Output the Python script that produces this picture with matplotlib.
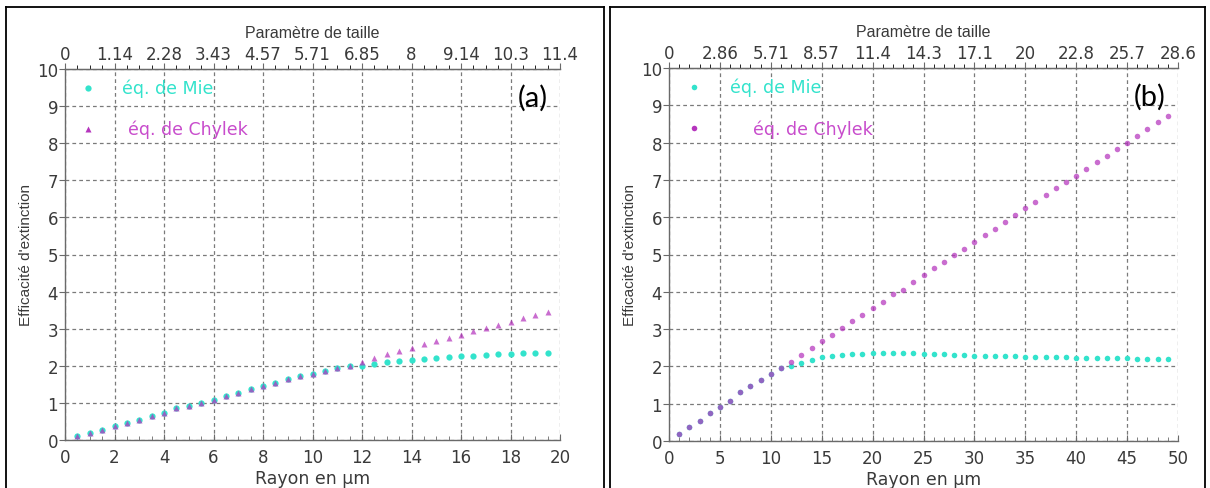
import matplotlib
matplotlib.use("Agg")
import matplotlib.pyplot as plt
from matplotlib.lines import Line2D
from matplotlib.ticker import MultipleLocator

plt.rcParams['font.family'] = ['DejaVu Sans']

# ---------------- data: panel (a) ----------------
rayon_a = [0.5, 1.0, 1.5, 2.0, 2.5, 3.0, 3.5, 4.0, 4.5, 5.0, 5.5, 6.0, 6.5, 7.0,
           7.5, 8.0, 8.5, 9.0, 9.5, 10.0, 10.5, 11.0, 11.5, 12.0, 12.5, 13.0,
           13.5, 14.0, 14.5, 15.0, 15.5, 16.0, 16.5, 17.0, 17.5, 18.0, 18.5,
           19.0, 19.5]
mie_a = [0.12, 0.18, 0.26, 0.38, 0.45, 0.55, 0.65, 0.73, 0.85, 0.92, 1.01, 1.09,
         1.19, 1.28, 1.37, 1.46, 1.54, 1.64, 1.72, 1.79, 1.87, 1.94, 1.99, 2.00,
         2.05, 2.09, 2.14, 2.16, 2.19, 2.20, 2.24, 2.26, 2.27, 2.29, 2.31, 2.32,
         2.34, 2.34, 2.34]
chylek_a = [0.12, 0.18, 0.26, 0.38, 0.45, 0.55, 0.65, 0.73, 0.85, 0.92, 1.01, 1.09,
            1.19, 1.28, 1.37, 1.46, 1.54, 1.64, 1.72, 1.79, 1.87, 1.94, 1.99, 2.10,
            2.21, 2.31, 2.40, 2.47, 2.59, 2.68, 2.75, 2.84, 2.93, 3.01, 3.10, 3.18,
            3.29, 3.37, 3.46]
xticks_a = [0, 2, 4, 6, 8, 10, 12, 14, 16, 18, 20]
toplabels_a = ["0", "1.14", "2.28", "3.43", "4.57", "5.71", "6.85", "8", "9.14",
               "10.3", "11.4"]

# ---------------- data: panel (b) ----------------
rayon_b = list(range(1, 50))
mie_b = [0.19, 0.37, 0.54, 0.74, 0.90, 1.08, 1.31, 1.48, 1.64, 1.80, 1.95, 2.00,
         2.09, 2.17, 2.24, 2.27, 2.30, 2.32, 2.34, 2.35, 2.35, 2.35, 2.35, 2.35,
         2.34, 2.33, 2.32, 2.31, 2.30, 2.29, 2.28, 2.28, 2.27, 2.27, 2.26, 2.25,
         2.25, 2.24, 2.24, 2.23, 2.23, 2.23, 2.22, 2.22, 2.22, 2.21, 2.20, 2.20,
         2.19]
chylek_b = [0.19, 0.37, 0.54, 0.74, 0.90, 1.08, 1.31, 1.48, 1.64, 1.80, 1.95, 2.13,
            2.31, 2.49, 2.69, 2.84, 3.02, 3.21, 3.39, 3.56, 3.73, 3.94, 4.06, 4.27,
            4.46, 4.63, 4.81, 4.98, 5.16, 5.34, 5.52, 5.69, 5.88, 6.06, 6.25, 6.42,
            6.60, 6.78, 6.95, 7.10, 7.30, 7.48, 7.65, 7.83, 8.00, 8.18, 8.36, 8.54,
            8.72]
xticks_b = [0, 5, 10, 15, 20, 25, 30, 35, 40, 45, 50]
toplabels_b = ["0", "2.86", "5.71", "8.57", "11.4", "14.3", "17.1", "20", "22.8",
               "25.7", "28.6"]

yticks = [0, 1, 2, 3, 4, 5, 6, 7, 8, 9, 10]

W, H = 1210, 489
fig = plt.figure(figsize=(W / 100, H / 100), dpi=100)

CYAN = '#33e3cc'
MAG = '#b535bd'
TICKC = '#3a3a3a'
AXC = '#6a6a6a'
LIB = ['Liberation Sans', 'DejaVu Sans']


def px(x0, y0, x1, y1):
    return [x0 / W, 1 - y1 / H, (x1 - x0) / W, (y1 - y0) / H]


def panel(rect, xs, mie, chy, xticks, toplabels, xmax, minor, chy_marker, label,
          leg_x, mie_tx, chy_tx, msize):
    ax = fig.add_axes(rect)
    ax.plot(xs, mie, 'o', color=CYAN, ms=msize, mec='none', zorder=3)
    ax.plot(xs, chy, chy_marker, color=MAG, ms=msize, mec='none', alpha=0.72,
            zorder=4)
    ax.set_xlim(0, xmax)
    ax.set_ylim(0, 10)
    ax.set_xticks(xticks)
    ax.set_yticks(yticks)
    ax.xaxis.set_minor_locator(MultipleLocator(minor))
    ax.grid(True, which='major', color='#7a7a7a', linestyle=(0, (3, 2.5)),
            linewidth=0.9)
    ax.spines['right'].set_visible(False)
    for s in ['left', 'bottom', 'top']:
        ax.spines[s].set_color(AXC)
        ax.spines[s].set_linewidth(1.0)
    ax.tick_params(axis='both', labelsize=12, colors=AXC, labelcolor=TICKC,
                   length=4, pad=1)
    ax.tick_params(axis='x', direction='in', pad=6)
    ax.tick_params(axis='x', which='minor', direction='in', length=3, colors=AXC)
    ax.tick_params(axis='y', direction='out', length=4)
    ax.set_xlabel("Rayon en µm", fontsize=12.5, color=TICKC, labelpad=2)
    ax.set_ylabel("Efficacité d'extinction", fontsize=11, color=TICKC,
                  labelpad=3, family=LIB)

    top = ax.secondary_xaxis('top')
    top.set_xticks(xticks, labels=toplabels)
    top.xaxis.set_minor_locator(MultipleLocator(minor))
    top.tick_params(axis='x', labelsize=12, colors=AXC, labelcolor=TICKC,
                    direction='out', length=4, pad=0)
    top.tick_params(axis='x', which='minor', direction='out', length=3)
    top.spines['top'].set_color(AXC)
    top.set_xlabel("Paramètre de taille", fontsize=11.5, color=TICKC,
                   labelpad=6, family=LIB)

    # legend entries
    ax.plot([leg_x], [0.949], 'o', color=CYAN, ms=msize, mec='none',
            transform=ax.transAxes, clip_on=False)
    ax.plot([leg_x], [0.838], chy_marker, color=MAG, ms=msize, mec='none',
            transform=ax.transAxes, clip_on=False)
    ax.text(mie_tx, 0.949, "éq. de Mie", color=CYAN, fontsize=12.5,
            transform=ax.transAxes, va='center', ha='left')
    ax.text(chy_tx, 0.838, "éq. de Chylek", color='#c84ccc', fontsize=12.5,
            transform=ax.transAxes, va='center', ha='left')

    ax.text(0.975, 0.925, label, fontsize=21, family=['Lato', 'DejaVu Sans'],
            transform=ax.transAxes, ha='right', va='center', color='black')
    return ax


panel(px(65, 70, 560, 441), rayon_a, mie_a, chylek_a, xticks_a, toplabels_a,
      20, 0.5, '^', "(a)", 0.046, 0.116, 0.127, 4.5)
panel(px(669, 69, 1178, 442), rayon_b, mie_b, chylek_b, xticks_b, toplabels_b,
      50, 1, 'o', "(b)", 0.049, 0.12, 0.165, 4.0)

# surrounding frames (table cells)
for (x0, x1) in [(6, 604), (610, 1205)]:
    for xx in (x0, x1):
        fig.add_artist(Line2D([xx / W, xx / W], [0, 1 - 8 / H], color='black',
                              lw=1.3, transform=fig.transFigure))
    fig.add_artist(Line2D([x0 / W, x1 / W], [1 - 8 / H, 1 - 8 / H], color='black',
                          lw=1.3, transform=fig.transFigure))

fig.savefig("out.png", dpi=100)
